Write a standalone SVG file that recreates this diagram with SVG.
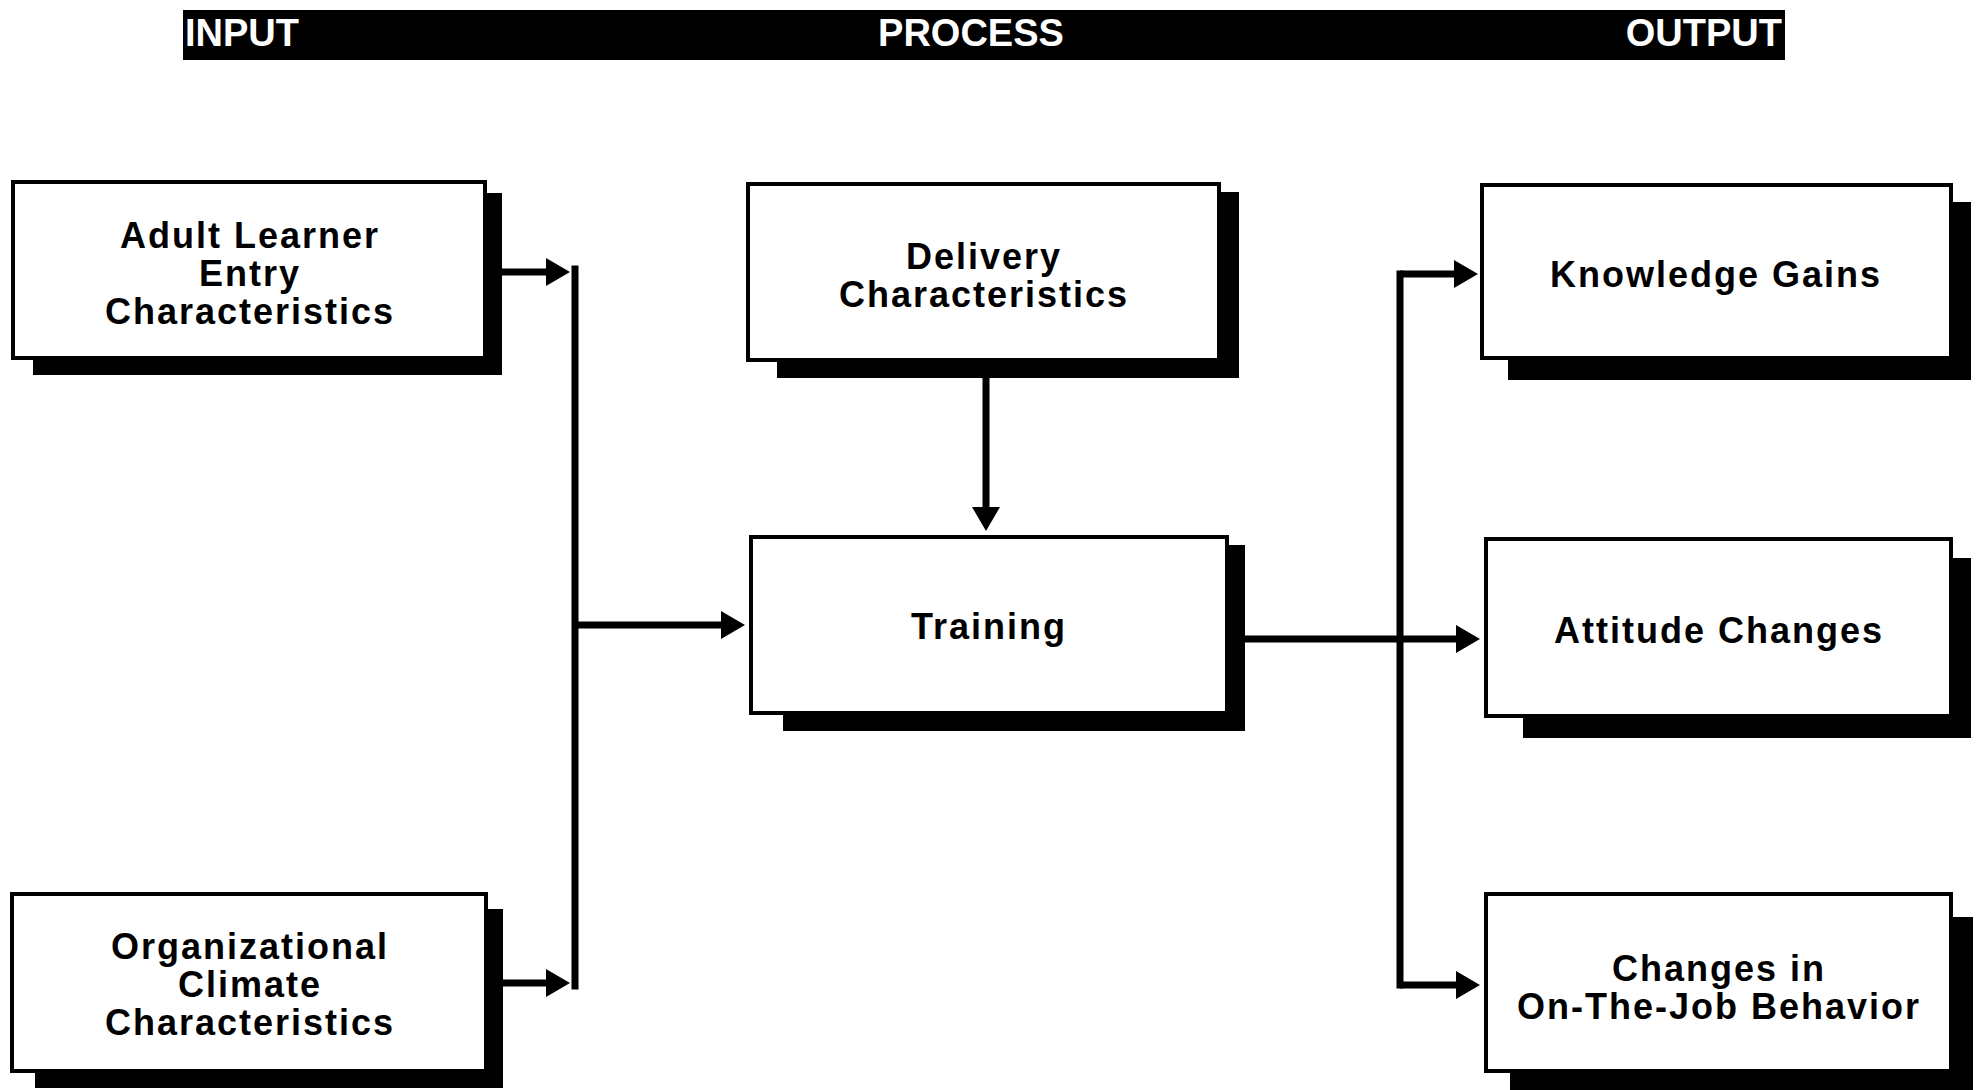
<svg xmlns="http://www.w3.org/2000/svg" width="1978" height="1090" viewBox="0 0 1978 1090">
<style>
.box{fill:#fff;stroke:#000;stroke-width:4}
.shadow{fill:#000}
.lbl{font-family:"Liberation Sans",Arial,Helvetica,sans-serif;font-weight:bold;font-size:36px;letter-spacing:2px;fill:#000;text-anchor:middle}
.hdr{font-family:"Liberation Sans",Arial,Helvetica,sans-serif;font-weight:bold;font-size:38px;fill:#fff}
.conn{fill:none;stroke:#000;stroke-width:7}
</style>
<defs>
<marker id="arrow" viewBox="0 0 24 28" refX="2" refY="14" markerWidth="24" markerHeight="28" markerUnits="userSpaceOnUse" orient="auto">
<path d="M0,0 L24,14 L0,28 z" fill="#000"/>
</marker>
</defs>
<rect width="1978" height="1090" fill="#fff"/>
<g id="header">
<rect x="183" y="10" width="1602" height="50" fill="#000"/>
<text class="hdr" x="185" y="46">INPUT</text>
<text class="hdr" x="971" y="46" text-anchor="middle">PROCESS</text>
<text class="hdr" x="1782" y="46" text-anchor="end">OUTPUT</text>
</g>
<g id="connectors">
<path class="conn" d="M502,272 L548,272" marker-end="url(#arrow)"/>
<path class="conn" d="M503,983 L548,983" marker-end="url(#arrow)"/>
<path class="conn" d="M575,269 L575,986" stroke-linecap="square"/>
<path class="conn" d="M575,625 L723,625" marker-end="url(#arrow)"/>
<path class="conn" d="M986,378 L986,509" marker-end="url(#arrow)"/>
<path class="conn" d="M1245,639 L1458,639" marker-end="url(#arrow)"/>
<path class="conn" d="M1400,274 L1400,985" stroke-linecap="square"/>
<path class="conn" d="M1400,274 L1456,274" marker-end="url(#arrow)"/>
<path class="conn" d="M1400,985 L1458,985" marker-end="url(#arrow)"/>
</g>
<g id="adult-learner">
<rect class="shadow" x="33" y="193" width="469" height="182"/>
<rect class="box" x="13" y="182" width="472" height="176"/>
<text class="lbl" x="250" y="248">Adult Learner</text>
<text class="lbl" x="250" y="286">Entry</text>
<text class="lbl" x="250" y="324">Characteristics</text>
</g>
<g id="organizational-climate">
<rect class="shadow" x="35" y="909" width="468" height="179"/>
<rect class="box" x="12" y="894" width="474" height="177"/>
<text class="lbl" x="250" y="959">Organizational</text>
<text class="lbl" x="250" y="997">Climate</text>
<text class="lbl" x="250" y="1035">Characteristics</text>
</g>
<g id="delivery">
<rect class="shadow" x="777" y="192" width="462" height="186"/>
<rect class="box" x="748" y="184" width="471" height="176"/>
<text class="lbl" x="984" y="269">Delivery</text>
<text class="lbl" x="984" y="307">Characteristics</text>
</g>
<g id="training">
<rect class="shadow" x="783" y="545" width="462" height="186"/>
<rect class="box" x="751" y="537" width="476" height="176"/>
<text class="lbl" x="989" y="639">Training</text>
</g>
<g id="knowledge-gains">
<rect class="shadow" x="1508" y="202" width="463" height="178"/>
<rect class="box" x="1482" y="185" width="469" height="173"/>
<text class="lbl" x="1716" y="287">Knowledge Gains</text>
</g>
<g id="attitude-changes">
<rect class="shadow" x="1523" y="558" width="448" height="180"/>
<rect class="box" x="1486" y="539" width="465" height="177"/>
<text class="lbl" x="1719" y="643">Attitude Changes</text>
</g>
<g id="behavior-changes">
<rect class="shadow" x="1510" y="917" width="463" height="178"/>
<rect class="box" x="1486" y="894" width="465" height="177"/>
<text class="lbl" x="1719" y="981">Changes in</text>
<text class="lbl" x="1719" y="1019">On-The-Job Behavior</text>
</g>
</svg>
